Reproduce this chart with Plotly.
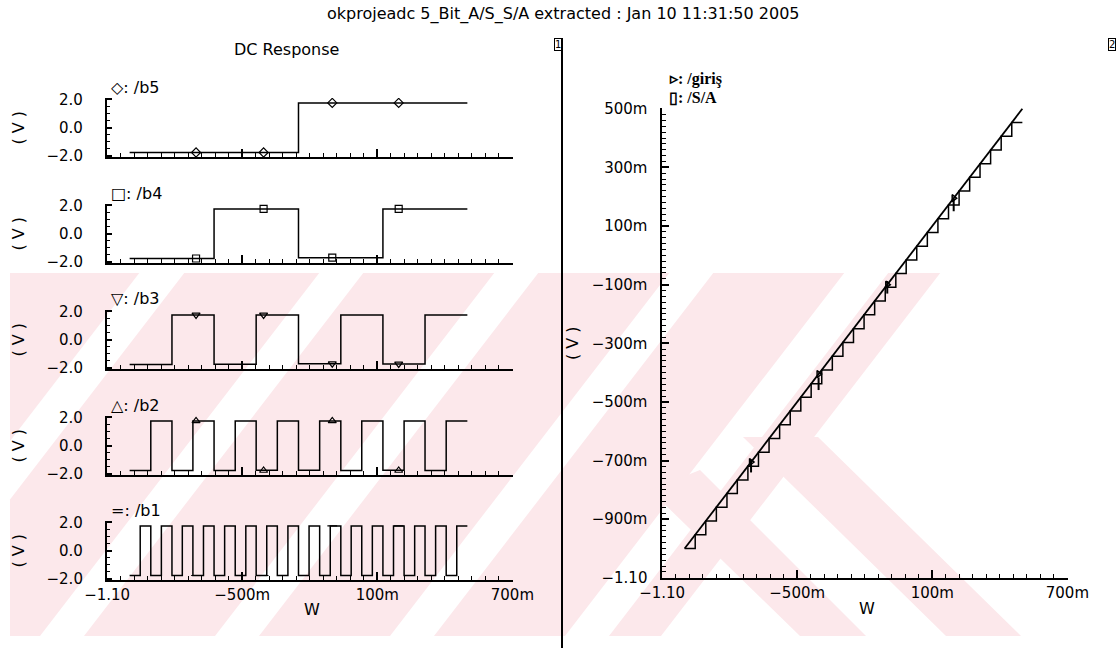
import plotly.graph_objects as go

W, H = 1117, 648

# ----------------------------- data -----------------------------
# Bit outputs of the 5-bit A/D converter versus the swept input (V)
b5_x = [-1.0, -0.25, 0.5]
b5_y = [-1.78, 1.75]
b4_x = [-1.0, -0.625, -0.25, 0.125, 0.5]
b4_y = [-1.78, 1.75, -1.72, 1.75]
b3_x = [-1.0, -0.812, -0.625, -0.438, -0.25, -0.062, 0.125, 0.312, 0.5]
b3_y = [-1.78, 1.75, -1.76, 1.75, -1.72, 1.75, -1.74, 1.75]
b2_x = [-1.0, -0.906, -0.812, -0.719, -0.625, -0.531, -0.438, -0.344, -0.25,
        -0.156, -0.062, 0.031, 0.125, 0.219, 0.312, 0.406, 0.5]
b2_y = [-1.78, 1.75, -1.78, 1.75, -1.78, 1.75, -1.76, 1.75,
        -1.76, 1.75, -1.78, 1.75, -1.76, 1.75, -1.78, 1.75]
b1_x = [-1.0, -0.953, -0.906, -0.859, -0.812, -0.766, -0.719, -0.672, -0.625,
        -0.578, -0.531, -0.484, -0.438, -0.391, -0.344, -0.297, -0.25,
        -0.203, -0.156, -0.109, -0.062, -0.016, 0.031, 0.078, 0.125,
        0.172, 0.219, 0.266, 0.312, 0.359, 0.406, 0.453, 0.5]
b1_y = [-1.78, 1.75, -1.78, 1.75, -1.78, 1.75, -1.78, 1.75,
        -1.78, 1.75, -1.78, 1.75, -1.78, 1.75, -1.78, 1.75,
        -1.78, 1.75, -1.78, 1.75, -1.78, 1.75, -1.78, 1.75,
        -1.78, 1.75, -1.78, 1.75, -1.78, 1.75, -1.78, 1.75]

# marker sample points (V)
mark_x = [-0.705, -0.405, -0.10, 0.195]
b5_mark_y = [-1.78, -1.78, 1.75, 1.75]
b4_mark_y = [-1.78, 1.75, -1.72, 1.75]
b3_mark_y = [1.75, 1.75, -1.72, -1.74]
b2_mark_y = [1.75, -1.78, 1.75, -1.78]
b1_mark_y = [-1.78, -1.78, 1.75, 1.75]

# Right plot: input (giris) and reconstructed output (S/A)
giris_x = [-1.0, 0.5]
giris_y = [-1.0, 0.5]
sa_x = b1_x
sa_y = [-1.0, -0.953, -0.906, -0.859, -0.812, -0.766, -0.719, -0.672,
        -0.625, -0.578, -0.531, -0.484, -0.438, -0.391, -0.344, -0.297,
        -0.25, -0.203, -0.156, -0.109, -0.062, -0.016, 0.031, 0.078,
        0.125, 0.172, 0.219, 0.266, 0.312, 0.359, 0.406, 0.453]
giris_mark_y = [-0.705, -0.405, -0.10, 0.195]
sa_mark_y = [-0.719, -0.438, -0.109, 0.172]

# axis ticks
x_tickvals = [-1.1, -0.5, 0.1, 0.7]
x_ticktext = ["\u22121.10", "\u2212500m", "100m", "700m"]
yl_tick0, yl_dtick = -2.0, 2.0          # labels 2.0 / 0.0 / -2.0
yr_tick0, yr_dtick = -1.1, 0.2          # labels -1.10 ... 500m

# ----------------------------- helpers -----------------------------
def px(x):
    return x / W

def py(y):
    return 1 - y / H

FONT = "DejaVu Sans"
NB = "\u00a0"
fig = go.Figure()

panels = [
    ("b5", b5_x, b5_y, b5_mark_y, "diamond-open", "\u25c7: /b5", (98, 157)),
    ("b4", b4_x, b4_y, b4_mark_y, "square-open", "\u25a1: /b4", (204, 263)),
    ("b3", b3_x, b3_y, b3_mark_y, "triangle-down-open", "\u25bd: /b3", (310, 369)),
    ("b2", b2_x, b2_y, b2_mark_y, "triangle-up-open", "\u25b3: /b2", (416, 475)),
    ("b1", b1_x, b1_y, b1_mark_y, "line-ew-open", "=: /b1", (521, 580)),
]

axis_common = dict(showline=True, linewidth=2, linecolor="black", ticks="inside",
                   tickcolor="black", tickwidth=1.5, showgrid=False, zeroline=False,
                   automargin=False,
                   tickfont=dict(family=FONT, size=15, color="black"))

def minor(dt, t0, ln):
    return dict(ticks="inside", ticklen=ln, tickwidth=1, tickcolor="black",
                tickmode="linear", dtick=dt, tick0=t0, showgrid=False)

annotations = []
for i, (name, xs, ys, mys, sym, lab, (top, bot)) in enumerate(panels, start=1):
    xa = "x" if i == 1 else f"x{i}"
    ya = "y" if i == 1 else f"y{i}"
    fig.add_trace(go.Scatter(x=xs, y=ys + [ys[-1]], mode="lines", line_shape="hv",
                             line=dict(color="black", width=1.5), xaxis=xa, yaxis=ya,
                             name="/" + name, showlegend=False))
    fig.add_trace(go.Scatter(x=mark_x, y=mys, mode="markers",
                             marker=dict(symbol=sym, size=7, color="black",
                                         line=dict(color="black", width=1.2)),
                             xaxis=xa, yaxis=ya, showlegend=False, hoverinfo="skip"))
    xkey = "xaxis" if i == 1 else f"xaxis{i}"
    ykey = "yaxis" if i == 1 else f"yaxis{i}"
    fig.layout[xkey] = dict(axis_common, domain=[px(107), px(512.5)], anchor=ya,
                            range=[-1.1005, 0.7005], tickmode="array",
                            tickvals=x_tickvals, ticktext=x_ticktext, ticklen=8,
                            showticklabels=(i == 5), minor=minor(0.06, -1.1, 4))
    fig.layout[ykey] = dict(axis_common, domain=[py(bot), py(top)], anchor=xa,
                            range=[-2.1, 2.1], tickmode="linear", tick0=yl_tick0,
                            dtick=yl_dtick, tickformat=".1f", ticksuffix=NB * 4,
                            ticklen=5, minor=minor(0.5, -2.0, 3))
    annotations.append(dict(text=lab, x=px(109), y=py(top - 11), xref="paper", yref="paper",
                            xanchor="left", yanchor="middle", showarrow=False,
                            font=dict(family=FONT, size=16, color="black")))
    annotations.append(dict(text="( V )", x=px(18), y=py((top + bot) / 2), xref="paper",
                            yref="paper", textangle=-90, showarrow=False,
                            xanchor="center", yanchor="middle",
                            font=dict(family=FONT, size=16, color="black")))

# right plot
fig.add_trace(go.Scatter(x=giris_x, y=giris_y, mode="lines", line=dict(color="black", width=1.8),
                         xaxis="x6", yaxis="y6", name="/giriş", showlegend=False))
fig.add_trace(go.Scatter(x=sa_x, y=sa_y + [sa_y[-1]], mode="lines", line_shape="hv",
                         line=dict(color="black", width=1.5),
                         xaxis="x6", yaxis="y6", name="/S/A", showlegend=False))
fig.add_trace(go.Scatter(x=mark_x, y=giris_mark_y, mode="markers",
                         marker=dict(symbol="triangle-right-open", size=6, color="black",
                                     line=dict(color="black", width=1.5)),
                         xaxis="x6", yaxis="y6", showlegend=False, hoverinfo="skip"))
fig.add_trace(go.Scatter(x=mark_x, y=sa_mark_y, mode="markers",
                         marker=dict(symbol="line-ns-open", size=9, color="black",
                                     line=dict(color="black", width=2)),
                         xaxis="x6", yaxis="y6", showlegend=False, hoverinfo="skip"))
fig.layout["xaxis6"] = dict(axis_common, domain=[px(662), px(1067.5)], anchor="y6",
                            range=[-1.1005, 0.7005], tickmode="array",
                            tickvals=x_tickvals, ticktext=x_ticktext, ticklen=8,
                            minor=minor(0.06, -1.1, 4))
fig.layout["yaxis6"] = dict(axis_common, domain=[py(578), py(108)], anchor="x6",
                            range=[-1.1005, 0.5025], tickmode="linear", tick0=yr_tick0,
                            dtick=yr_dtick, tickformat=".3s", ticksuffix=NB * 2,
                            ticklen=7, minor=minor(0.02, -1.1, 4))

# ----------------------------- text -----------------------------
def ann(text, x, y, size=15, family=FONT, **kw):
    d = dict(text=text, x=px(x), y=py(y), xref="paper", yref="paper", showarrow=False,
             xanchor="center", yanchor="middle",
             font=dict(family=family, size=size, color="black"))
    d.update(kw)
    annotations.append(d)

ann("okprojeadc 5_Bit_A/S_S/A extracted : Jan 10 11:31:50 2005", 563, 14, size=16)
ann("DC Response", 286, 49, size=16)
ann("W", 312, 609, size=16)
ann("W", 867, 608, size=16)
ann("( V )", 572, 343, size=16, textangle=-90)
ann("<b>\u25b9: /giriş</b>", 667, 79, size=16, family="Liberation Serif", xanchor="left")
ann("<b>\u25af: /S/A</b>", 667, 97, size=16, family="Liberation Serif", xanchor="left")
ann("1", 562, 45, size=10, xanchor="right", bordercolor="black", borderwidth=1, borderpad=0)
ann("2", 1116, 45, size=10, xanchor="right", bordercolor="black", borderwidth=1, borderpad=0)

# ----------------------------- decoration (watermark) -----------------------------
def clip(poly, a, b, c):
    out = []
    n = len(poly)
    for k in range(n):
        p, q = poly[k], poly[(k + 1) % n]
        fp = a * p[0] + b * p[1] + c
        fq = a * q[0] + b * q[1] + c
        if fp >= 0:
            out.append(p)
        if (fp >= 0) != (fq >= 0):
            t = fp / (fp - fq)
            out.append((p[0] + t * (q[0] - p[0]), p[1] + t * (q[1] - p[1])))
    return out

YB, YT = 636, 273
S = (YB - YT) / 1.3
shapes = []
PINK = "#fce8eb"
bands = [(-300, -140), (-95, 40), (84, 215), (259, 390), (434, 565), (609, 661)]
polys = []
for l, r in bands:
    poly = [(l, YB), (r, YB), (r + S, YT), (l + S, YT)]
    poly = clip(poly, 1, 0, -10)
    polys.append(poly)
polys.append([(818, 437), (1021, YB), (946, YB), (743, 437)])
polys.append([(700, 470), (866, YB), (800, YB), (650, 490)])
for poly in polys:
    if len(poly) < 3:
        continue
    path = "M " + " L ".join(f"{px(x):.5f},{py(y):.5f}" for x, y in poly) + " Z"
    shapes.append(dict(type="path", path=path, xref="paper", yref="paper",
                       fillcolor=PINK, line=dict(width=0), layer="below"))

shapes.append(dict(type="line", x0=px(562), x1=px(562), y0=py(38), y1=py(648),
                   xref="paper", yref="paper", line=dict(color="black", width=2)))

fig.update_layout(width=W, height=H,
                  margin=dict(l=0, r=0, t=0, b=0, pad=0, autoexpand=False),
                  paper_bgcolor="white", plot_bgcolor="rgba(0,0,0,0)",
                  font=dict(family=FONT, color="black"),
                  annotations=annotations, shapes=shapes, showlegend=False)

fig.write_html("out.html")
